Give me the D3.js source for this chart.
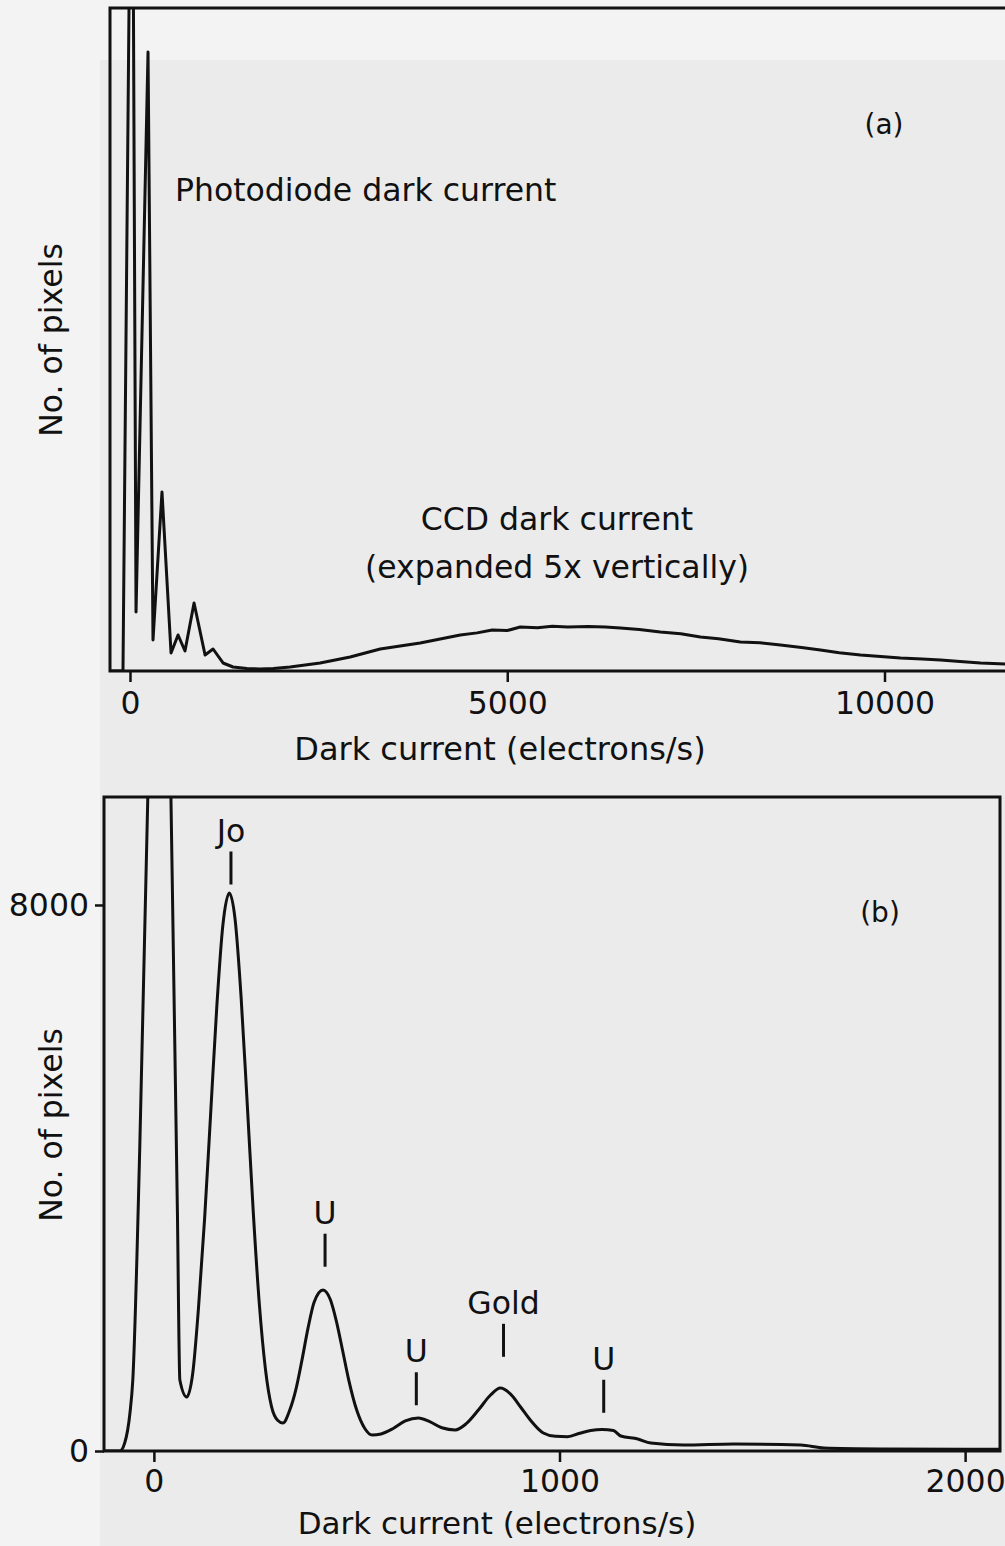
<!DOCTYPE html>
<html>
<head>
<meta charset="utf-8">
<script src="https://cdn.jsdelivr.net/npm/d3@7"></script>
<style>
  html, body { margin: 0; padding: 0; background: #efefef; }
  svg { display: block; }
  text { font-family: "DejaVu Sans", sans-serif; fill: #111; }
</style>
</head>
<body>
<svg id="chart" width="1005" height="1546"></svg>
<script>
// ---------- Panel (a): full histogram ----------
const photodiodeX = [-265, -93, 27, 80, 239, 305, 424, 544, 637, 729, 849, 995, 1101, 1233, 1366, 1550, 1724, 1900];
const photodiodeY = [0, 0, 60000, 3560, 37345, 1870, 10800, 1086, 2172, 1207, 4102, 965, 1327, 483, 241, 150, 121, 150];
const ccdX = [2122, 2520, 2918, 3316, 3846, 4377, 4600, 4801, 5000, 5172, 5400, 5597, 5800, 6074, 6300, 6499, 6750, 7029, 7300, 7560, 7800, 8090, 8350, 8621, 8900, 9151, 9400, 9682, 9950, 10212, 10500, 10743, 11000, 11273, 11631, 12000, 12326];
const ccdY = [241, 483, 845, 1327, 1689, 2172, 2300, 2474, 2440, 2655, 2610, 2700, 2650, 2680, 2650, 2594, 2500, 2353, 2250, 2051, 1950, 1750, 1700, 1568, 1420, 1267, 1100, 965, 870, 784, 720, 664, 570, 483, 422, 380, 350];
const aTicks = [0, 5000, 10000];
const aLabels = ["Photodiode dark current", "CCD dark current", "(expanded 5x vertically)", "(a)"];

// ---------- Panel (b): low dark-current region ----------
const bX = [-123, -84, -72, -59, -52, -35, -15, 0, 15, 30, 42, 58, 64, 81, 96, 110, 125, 140, 155, 170, 186, 200, 215, 230, 245, 260, 275, 290, 305, 318, 335, 350, 365, 380, 395, 417, 435, 450, 465, 480, 500, 520, 538, 560, 590, 620, 652, 680, 710, 743, 770, 800, 830, 854, 880, 904, 928, 960, 990, 1020, 1050, 1077, 1105, 1133, 1151, 1193, 1225, 1306, 1430, 1595, 1652, 1800, 2000, 2086];
const bY = [0, 0, 117, 557, 1040, 4400, 9580, 14000, 16000, 14000, 9580, 3500, 1040, 791, 1150, 2100, 3400, 4950, 6500, 7700, 8176, 7800, 6650, 5100, 3500, 2150, 1200, 650, 450, 410, 600, 900, 1330, 1800, 2180, 2360, 2220, 1900, 1480, 1050, 600, 330, 234, 250, 330, 440, 483, 430, 340, 308, 400, 600, 820, 923, 830, 645, 454, 264, 215, 210, 260, 300, 315, 300, 220, 176, 117, 88, 103, 88, 44, 30, 25, 25];
const bXTicks = [0, 1000, 2000];
const bYTicks = [0, 8000];
const peakNames = ["Jo", "U", "U", "Gold", "U"];
const peakX = [190, 422, 647, 862, 1109];
const peakLevel = [8300, 2700, 670, 1380, 560];

const svg = d3.select("#chart");
// scanned-paper background
svg.append("rect").attr("x", 0).attr("y", 0).attr("width", 1005).attr("height", 1546).attr("fill", "#f3f3f3");
svg.append("rect").attr("x", 100).attr("y", 60).attr("width", 905).attr("height", 1486).attr("fill", "#ebebeb");

const FS = 31.5;
const ink = "#111";

// ===== Panel (a) =====
const xA = d3.scaleLinear().domain([-265, 12326]).range([110, 1060]);
const yA = d3.scaleLinear().domain([0, 40000]).range([671, 8]);

svg.append("clipPath").attr("id", "clipA")
  .append("rect").attr("x", 110).attr("y", 8).attr("width", 950).attr("height", 663);

const dataA = photodiodeX.map((x, i) => [x, photodiodeY[i]])
  .concat(ccdX.map((x, i) => [x, ccdY[i]]));
svg.append("path")
  .datum(dataA)
  .attr("clip-path", "url(#clipA)")
  .attr("fill", "none").attr("stroke", ink).attr("stroke-width", 3)
  .attr("stroke-linejoin", "round")
  .attr("d", d3.line().x(d => xA(d[0])).y(d => yA(d[1])));

// frame
svg.append("rect").attr("x", 110).attr("y", 8).attr("width", 950).attr("height", 663)
  .attr("fill", "none").attr("stroke", ink).attr("stroke-width", 3);

const axA = svg.append("g").attr("transform", "translate(0,671)")
  .call(d3.axisBottom(xA).tickValues(aTicks).tickSize(11).tickPadding(10).tickFormat(d3.format("d")));
axA.select(".domain").remove();
axA.selectAll("line").attr("stroke", ink).attr("stroke-width", 2.5);
axA.selectAll("text").attr("font-size", FS).attr("font-family", "DejaVu Sans").attr("fill", ink);

svg.append("text").attr("x", 175).attr("y", 201).attr("font-size", FS).text(aLabels[0]);
svg.append("text").attr("x", 557).attr("y", 530).attr("text-anchor", "middle").attr("font-size", FS).text(aLabels[1]);
svg.append("text").attr("x", 557).attr("y", 578).attr("text-anchor", "middle").attr("font-size", FS).text(aLabels[2]);
svg.append("text").attr("x", 884).attr("y", 134).attr("text-anchor", "middle").attr("font-size", 28).attr("font-family", "Liberation Mono, DejaVu Sans Mono").text(aLabels[3]);

svg.append("text").attr("x", 500).attr("y", 760).attr("text-anchor", "middle").attr("font-size", 32).text("Dark current (electrons/s)");
svg.append("text").attr("transform", "translate(62,340) rotate(-90)").attr("text-anchor", "middle").attr("font-size", FS).text("No. of pixels");

// ===== Panel (b) =====
const xB = d3.scaleLinear().domain([-123, 2086]).range([104, 1000]);
const yB = d3.scaleLinear().domain([0, 9582]).range([1451, 797]);

svg.append("clipPath").attr("id", "clipB")
  .append("rect").attr("x", 104).attr("y", 797).attr("width", 896).attr("height", 654);

const dataB = bX.map((x, i) => [x, bY[i]]);
svg.append("path")
  .datum(dataB)
  .attr("clip-path", "url(#clipB)")
  .attr("fill", "none").attr("stroke", ink).attr("stroke-width", 3)
  .attr("stroke-linejoin", "round")
  .attr("d", d3.line().curve(d3.curveMonotoneX).x(d => xB(d[0])).y(d => yB(d[1])));

svg.append("rect").attr("x", 104).attr("y", 797).attr("width", 896).attr("height", 654)
  .attr("fill", "none").attr("stroke", ink).attr("stroke-width", 3);

const axBx = svg.append("g").attr("transform", "translate(0,1451)")
  .call(d3.axisBottom(xB).tickValues(bXTicks).tickSize(11).tickPadding(8).tickFormat(d3.format("d")));
axBx.select(".domain").remove();
axBx.selectAll("line").attr("stroke", ink).attr("stroke-width", 2.5);
axBx.selectAll("text").attr("font-size", FS).attr("font-family", "DejaVu Sans").attr("fill", ink);

const axBy = svg.append("g").attr("transform", "translate(104,0)")
  .call(d3.axisLeft(yB).tickValues(bYTicks).tickSize(9).tickPadding(6).tickFormat(d3.format("d")));
axBy.select(".domain").remove();
axBy.selectAll("line").attr("stroke", ink).attr("stroke-width", 2.5);
axBy.selectAll("text").attr("font-size", FS).attr("font-family", "DejaVu Sans").attr("fill", ink);

// peak annotations
const ann = svg.append("g");
peakNames.forEach((name, i) => {
  const px = xB(peakX[i]);
  const yb = yB(peakLevel[i]);
  ann.append("line").attr("x1", px).attr("x2", px).attr("y1", yb).attr("y2", yb - 33)
    .attr("stroke", ink).attr("stroke-width", 3);
  ann.append("text").attr("x", px).attr("y", yb - 43).attr("text-anchor", "middle")
    .attr("font-size", FS).text(name);
});

svg.append("text").attr("x", 880).attr("y", 922).attr("text-anchor", "middle").attr("font-size", 28).attr("font-family", "Liberation Mono, DejaVu Sans Mono").text("(b)");
svg.append("text").attr("x", 497).attr("y", 1534).attr("text-anchor", "middle").attr("font-size", 31).text("Dark current (electrons/s)");
svg.append("text").attr("transform", "translate(62,1125) rotate(-90)").attr("text-anchor", "middle").attr("font-size", FS).text("No. of pixels");
</script>
</body>
</html>
